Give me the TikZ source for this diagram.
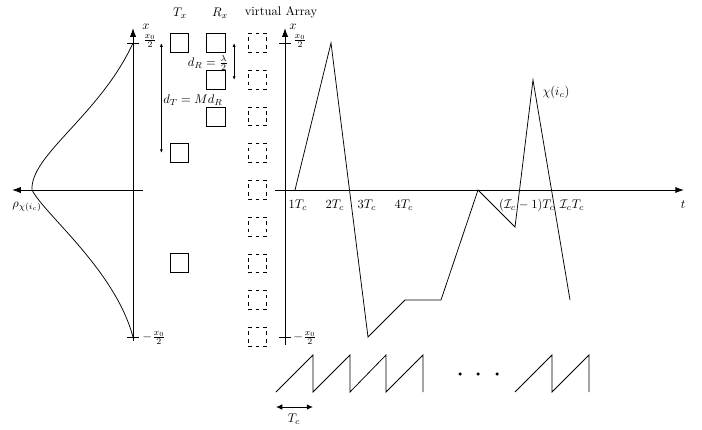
\documentclass[tikz,border=0pt]{standalone}
\usepackage{amsmath,amssymb}
\usepackage{tikz}
\usetikzlibrary{arrows.meta,positioning,calc}
\tikzset{
  antbox/.style={draw,thick,minimum size=15pt,inner sep=0pt,outer sep=0pt},
  virtbox/.style={antbox,dashed},
  axisarrow/.style={-{Latex[length=7pt,width=5pt]},thick},
  dimarrow/.style={{Latex[length=3pt,width=2.4pt]}-{Latex[length=3pt,width=2.4pt]},semithick},
  periodarrow/.style={{Latex[length=5pt,width=4.5pt]}-{Latex[length=5pt,width=4.5pt]},thick},
  signal/.style={semithick,line join=miter},
  ticklabel/.style={inner sep=1pt}
}
\begin{document}
\begin{tikzpicture}[x=0.8pt,y=-0.8pt]
  \useasboundingbox (0,0) rectangle (702,429);
  % spatial density on the left
  \draw[axisarrow] (133,341) -- (133,28);
  \draw[axisarrow] (143,190) -- (12,190);
  \draw[thick] (127,43) -- (139,43) (127,337) -- (139,337);
  \node[ticklabel] (lx) at (146,27) {$x$};
  \node[ticklabel] (ltop) at (150,41) {$\frac{x_0}{2}$};
  \node[ticklabel] (lbot) at (154,338) {$-\frac{x_0}{2}$};
  \node[ticklabel] (rho) at (27,207) {$\rho_{\chi(i_c)}$};
  \draw[semithick] (133,43) .. controls (100,115) and (30,155) .. (32,190)
    .. controls (45,215) and (115,270) .. (133,337);

  % antennas and virtual array
  \node (txl) at (180,13) {$T_x$};
  \node (rxl) at (220,13) {$R_x$};
  \node (val) at (281,12) {virtual Array};
  \node[antbox] (tx1) at (179.5,43) {};
  \node[antbox,below=73pt of tx1] (tx2) {};
  \node[antbox,below=73pt of tx2] (tx3) {};
  \node[antbox] (rx1) at (216,43) {};
  \node[antbox,below=14.6pt of rx1] (rx2) {};
  \node[antbox,below=14.6pt of rx2] (rx3) {};
  \foreach \i in {1,...,9}
    \node[virtbox] (v\i) at (257.5,{43+36.75*(\i-1)}) {};
  \draw[dimarrow] ([xshift=-7pt]tx1.west) -- ([xshift=-7pt]tx2.west);
  \draw[dimarrow] ([xshift=7pt]rx1.east) -- ([xshift=7pt]rx2.east);
  \node (dT) at (193,100) {$d_T = M d_R$};
  \node (dR) at (208,63) {$d_R = \frac{\lambda}{2}$};

  % trajectory over time
  \draw[axisarrow] (285,345) -- (285,28);
  \draw[axisarrow] (275,190) -- (684,190);
  \draw[thick] (279,43) -- (291,43) (279,337) -- (291,337);
  \node[ticklabel] (rx) at (293,27) {$x$};
  \node[ticklabel] (rtop) at (300,41) {$\frac{x_0}{2}$};
  \node[ticklabel] (rbot) at (305,338) {$-\frac{x_0}{2}$};
  \node[ticklabel] (t) at (683,205) {$t$};
  \node[ticklabel] (t1) at (298,205) {$1T_c$};
  \node[ticklabel] (t2) at (335,205) {$2T_c$};
  \node[ticklabel] (t3) at (367,205) {$3T_c$};
  \node[ticklabel] (t4) at (404,205) {$4T_c$};
  \node[ticklabel] (tm) at (527,205) {$(\mathcal{I}_c-1)T_c$};
  \node[ticklabel] (tI) at (572,205) {$\mathcal{I}_cT_c$};
  \node[ticklabel] (chi) at (556,92) {$\chi(i_c)$};
  \draw[signal] (295,190) -- (331,43) -- (368,337) -- (405,300) -- (441,300)
    -- (478,190) -- (515,227) -- (533,80) -- (570,300);

  % chirp sawtooth
  \draw[signal] (276,392) -- (313,355) -- (313,392) -- (350,355) -- (350,392)
    -- (386,355) -- (386,392) -- (423,355) -- (423,392);
  \draw[signal] (515,392) -- (552,355) -- (552,392) -- (589,355) -- (589,392);
  \foreach \x in {460,478,497}
    \fill (\x,374) circle (1.4pt);
  \coordinate (ca) at (276,407);
  \coordinate (cb) at (313,407);
  \draw[periodarrow] (ca) -- (cb);
  \node (tc) at (294,419) {$T_c$};
\end{tikzpicture}
\end{document}
